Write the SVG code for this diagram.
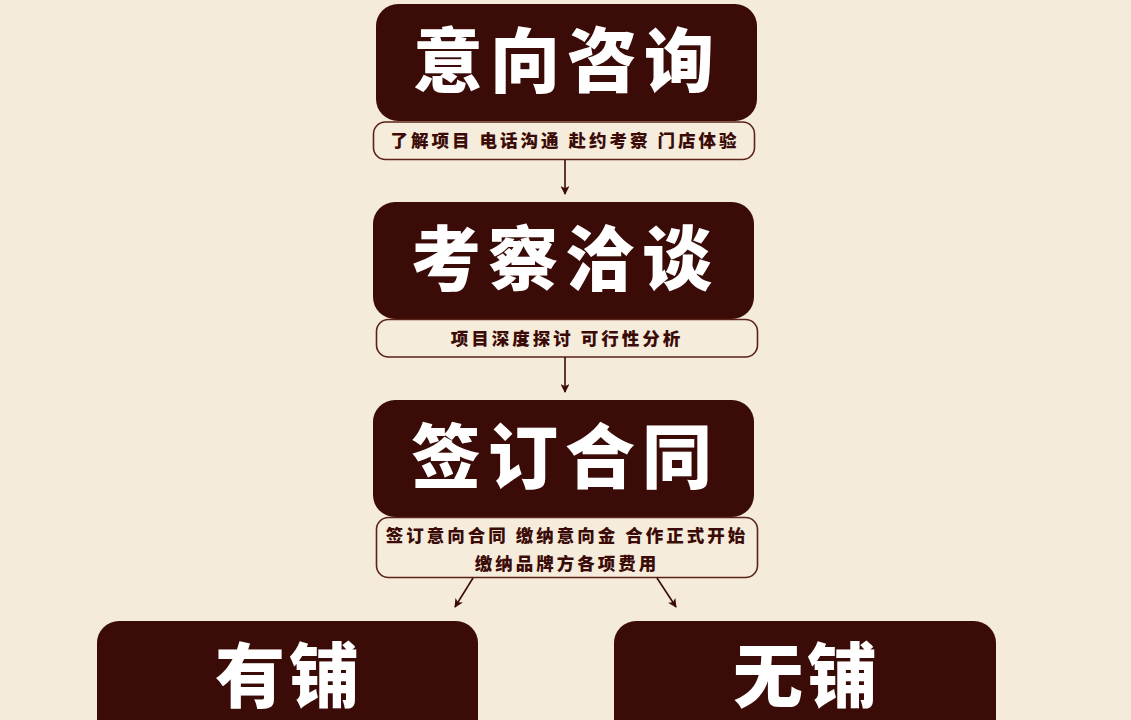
<svg xmlns="http://www.w3.org/2000/svg" width="1131" height="720" viewBox="0 0 1131 720">
<defs>
<style>
.box{fill:#3a0b07;}
.cap{fill:#f6ecdc;stroke:#5a2218;stroke-width:1.6;}
.big{font-family:"Noto Sans CJK SC","Noto Sans",sans-serif;font-weight:900;fill:#ffffff;text-anchor:middle;}
.small{font-family:"Noto Sans CJK SC","Noto Sans",sans-serif;font-weight:900;fill:#3a0b07;text-anchor:middle;font-size:17.5px;letter-spacing:3px;}
.conn{stroke:#3a0b07;stroke-width:1.6;fill:none;}
</style>
<marker id="ah" viewBox="0 0 10 10" refX="9" refY="5" markerWidth="5.5" markerHeight="5.5" orient="auto" markerUnits="strokeWidth">
<path d="M0,0 L10,5 L0,10 L2.5,5 Z" fill="#3a0b07"/>
</marker>
</defs>
<rect width="1131" height="720" fill="#f5ebda"/>
<g id="node-yixiang">
<rect class="box" x="376" y="4" width="381" height="117" rx="22"/>
<text class="big" x="567" y="87" font-size="70" letter-spacing="7">意向咨询</text>
</g>
<g id="cap-yixiang">
<rect class="cap" x="373.5" y="122" width="381" height="37.5" rx="12"/>
<text class="small" x="565" y="147">了解项目 电话沟通 赴约考察 门店体验</text>
</g>
<g id="node-kaocha">
<rect class="box" x="373" y="202" width="381" height="117" rx="22"/>
<text class="big" x="565" y="285" font-size="70" letter-spacing="7">考察洽谈</text>
</g>
<g id="cap-kaocha">
<rect class="cap" x="376.5" y="319.5" width="381" height="37.5" rx="12"/>
<text class="small" x="567" y="345">项目深度探讨 可行性分析</text>
</g>
<g id="node-qianding">
<rect class="box" x="373" y="400" width="381" height="117" rx="22"/>
<text class="big" x="565" y="483" font-size="70" letter-spacing="7">签订合同</text>
</g>
<g id="cap-qianding">
<rect class="cap" x="376.5" y="517.5" width="381" height="60" rx="12"/>
<text class="small" x="567" y="542">签订意向合同 缴纳意向金 合作正式开始</text>
<text class="small" x="567" y="570">缴纳品牌方各项费用</text>
</g>
<g id="node-youpu">
<rect class="box" x="97" y="621" width="381" height="130" rx="22"/>
<text class="big" x="289" y="702" font-size="70" letter-spacing="4">有铺</text>
</g>
<g id="node-wupu">
<rect class="box" x="614" y="621" width="382" height="130" rx="22"/>
<text class="big" x="807" y="702" font-size="70" letter-spacing="4">无铺</text>
</g>
<g id="connectors">
<line class="conn" x1="565" y1="160" x2="565" y2="194" marker-end="url(#ah)"/>
<line class="conn" x1="565" y1="357" x2="565" y2="392" marker-end="url(#ah)"/>
<line class="conn" x1="473" y1="578" x2="455" y2="607" marker-end="url(#ah)"/>
<line class="conn" x1="657" y1="578" x2="676" y2="607" marker-end="url(#ah)"/>
</g>
</svg>
